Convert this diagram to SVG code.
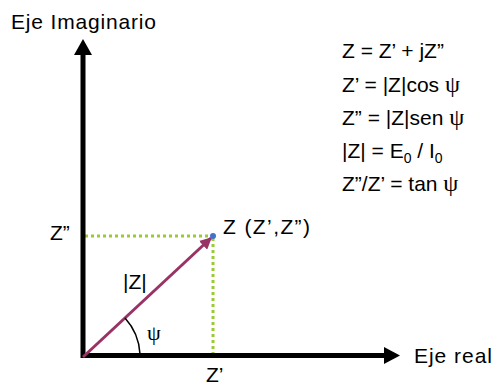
<svg xmlns="http://www.w3.org/2000/svg" width="493" height="385" viewBox="0 0 493 385">
<style>
text{font-family:"Liberation Sans",Arial,sans-serif;fill:#000}
.lbl{font-size:21px}
.eq{font-size:21px}
.psi{font-family:"Liberation Serif","DejaVu Serif",serif}
.eq .psi{font-size:24px}
.sub{font-size:14px}
.axis{stroke:#000;stroke-width:5;fill:none}
.dot{stroke:#99CC33;stroke-width:3;stroke-dasharray:3 3;fill:none}
</style>
<defs>
<marker id="vh" viewBox="0 0 10 10" refX="9" refY="5" markerWidth="12" markerHeight="12" orient="auto" markerUnits="userSpaceOnUse">
<path d="M0,0 L10,5 L0,10 Z" fill="#993366"/>
</marker>
</defs>
<g id="connectors">
<path class="dot" d="M85,236 H212"/>
<path class="dot" d="M213,238 V354"/>
<path class="axis" d="M83,358 V52"/>
<path d="M74,55 L83,39 L92,55 Z" fill="#000"/>
<path class="axis" d="M81,355.5 H386"/>
<path d="M384,347 L400,355.5 L384,364 Z" fill="#000"/>
<path d="M83,357 L211,238" stroke="#993366" stroke-width="3" fill="none" marker-end="url(#vh)"/>
<path d="M125,318 A58,58 0 0 1 140,354" stroke="#000" stroke-width="1.5" fill="none"/>
</g>
<g id="point">
<circle cx="213" cy="236" r="3" fill="#4472C4"/>
<text class="lbl" x="223" y="234" textLength="87" lengthAdjust="spacing">Z (Z’,Z”)</text>
</g>
<g id="axis-labels">
<text class="lbl" x="11" y="29" textLength="145" lengthAdjust="spacing">Eje Imaginario</text>
<text class="lbl" x="414" y="363" textLength="78" lengthAdjust="spacing">Eje real</text>
<text class="lbl" x="50" y="240">Z”</text>
<text class="lbl" x="206" y="382">Z’</text>
<text class="lbl" x="123" y="289">|Z|</text>
<text class="psi" x="147" y="340" font-size="22">ψ</text>
</g>
<g id="equations">
<text class="eq" x="342" y="58">Z = Z’ + jZ”</text>
<text class="eq" x="342" y="92">Z’ = |Z|cos <tspan class="psi">ψ</tspan></text>
<text class="eq" x="342" y="125">Z” = |Z|sen <tspan class="psi">ψ</tspan></text>
<text class="eq" x="342" y="158">|Z| = E<tspan class="sub" dy="5">0</tspan><tspan dy="-5"> / I</tspan><tspan class="sub" dy="5">0</tspan></text>
<text class="eq" x="342" y="191">Z”/Z’ = tan <tspan class="psi">ψ</tspan></text>
</g>
</svg>
